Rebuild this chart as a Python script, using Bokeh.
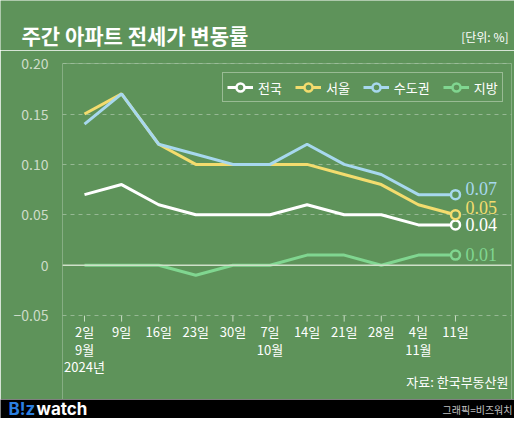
from bokeh.plotting import figure
from bokeh.models import Range1d, FixedTicker, Span, Legend, LegendItem, Label
from bokeh.layouts import column
from bokeh.core.properties import value
from bokeh.embed import file_html
from bokeh.resources import INLINE

# ---- data ----
dates = ["2일\n9월\n2024년", "9일", "16일", "23일", "30일", "7일\n10월",
         "14일", "21일", "28일", "4일\n11월", "11일"]
nation = [0.07, 0.08, 0.06, 0.05, 0.05, 0.05, 0.06, 0.05, 0.05, 0.04, 0.04]
seoul = [0.15, 0.17, 0.12, 0.10, 0.10, 0.10, 0.10, 0.09, 0.08, 0.06, 0.05]
capital = [0.14, 0.17, 0.12, 0.11, 0.10, 0.10, 0.12, 0.10, 0.09, 0.07, 0.07]
local = [0.00, 0.00, 0.00, -0.01, 0.00, 0.00, 0.01, 0.01, 0.00, 0.01, 0.01]
series_names = ["전국", "서울", "수도권", "지방"]
y_ticks = [-0.05, 0.0, 0.05, 0.10, 0.15, 0.20]
y_tick_labels = ["−0.05", "0", "0.05", "0.10", "0.15", "0.20"]

title_text = "주간 아파트 전세가 변동률"
unit_text = "[단위: %]"
source_text = "자료: 한국부동산원"
credit_text = "그래픽=비즈워치"

# ---- style ----
BG = "#5e935a"
FONT = "Noto Sans CJK KR"
colors = {"전국": "#ffffff", "서울": "#f3dc6e", "수도권": "#a7d8ee", "지방": "#80d690"}
values = {"전국": nation, "서울": seoul, "수도권": capital, "지방": local}
end_dy = {"전국": 0, "서울": -7, "수도권": -6, "지방": -1}
row_dy = [16, 34, 50.5]      # px below the axis line for each line of a date label
TICK_PX = 6
PX_PER_UNIT = 1008.0         # vertical scale of the chart
FRAME_H = 336                # frame: chart area + date-label strip
y_top = max(y_ticks) + 0.0001
y_bot = y_top - FRAME_H / PX_PER_UNIT
base = min(y_ticks)

x = list(range(len(dates)))


def bare(h, bg):
    f = figure(width=514, height=h, x_range=Range1d(0, 1), y_range=Range1d(0, 1),
               toolbar_location=None, output_backend="svg", min_border=0,
               x_axis_location=None, y_axis_location=None, frame_align=False)
    f.background_fill_color = bg
    f.border_fill_color = bg
    f.outline_line_color = None
    f.xgrid.visible = False
    f.ygrid.visible = False
    return f


# ---- header ----
head = bare(50, BG)
head.add_layout(Label(x=21, y=15.5, x_units="screen", y_units="screen", text=title_text,
                      text_font=FONT, text_font_style="bold", text_font_size="21px",
                      text_color="white", text_baseline="middle"))
head.add_layout(Label(x=508, y=14.5, x_units="screen", y_units="screen", text=unit_text,
                      text_font=FONT, text_font_size="12px", text_color="white",
                      text_align="right", text_baseline="middle"))

# ---- main chart ----
p = figure(width=514, height=13 + FRAME_H,
           x_range=Range1d(-0.593, 11.51), y_range=Range1d(y_bot, y_top),
           toolbar_location=None, output_backend="svg", frame_align=False,
           x_axis_location=None,
           min_border_left=62, min_border_right=3, min_border_top=13, min_border_bottom=0)
p.background_fill_color = BG
p.border_fill_color = BG
p.outline_line_color = None

p.yaxis.ticker = FixedTicker(ticks=y_ticks)
p.yaxis.major_label_overrides = {t: l for t, l in zip(y_ticks, y_tick_labels)}
p.yaxis.axis_line_color = None
p.yaxis.major_tick_line_color = None
p.yaxis.minor_tick_line_color = None
p.yaxis.major_label_text_color = "#cddcc9"
p.yaxis.major_label_text_font = FONT
p.yaxis.major_label_text_font_size = "14px"
p.yaxis.major_label_standoff = 8

p.xgrid.visible = False
p.ygrid.grid_line_color = "white"
p.ygrid.grid_line_alpha = 0.35
p.ygrid.grid_line_dash = "4 4"
p.ygrid.grid_line_width = 1

p.add_layout(Span(location=0, dimension="width", line_color="#cfe0c9", line_width=1.5))

# x ticks hanging under the lowest grid line
p.segment(x0=x, y0=[base] * len(x), x1=x, y1=[base - TICK_PX / PX_PER_UNIT] * len(x),
          line_color="#c9dcc4", line_width=1)

# date labels (one text call per line of the label)
for k, dy in enumerate(row_dy):
    xs = [x[i] for i, d in enumerate(dates) if len(d.split("\n")) > k]
    ts = [d.split("\n")[k] for d in dates if len(d.split("\n")) > k]
    p.text(xs, [base] * len(xs), text=ts, text_font=value(FONT), text_font_size="13px",
           text_color="white", text_align="center", text_baseline="middle", y_offset=dy)

renderers = {}
for name in ["지방", "전국", "서울", "수도권"]:
    vals = values[name]
    c = colors[name]
    rl = p.line(x, vals, line_color=c, line_width=3)
    rp = p.scatter([x[-1]], [vals[-1]], marker="circle", size=9, line_color=c,
                   line_width=2.5, fill_color=BG)
    p.text([x[-1]], [vals[-1]], text=[f"{vals[-1]:.2f}"], text_font=value("Liberation Serif"),
           text_font_size="18px", text_color=c, text_baseline="middle",
           x_offset=10, y_offset=end_dy[name])
    renderers[name] = [rl, rp]

items = [LegendItem(label=n, renderers=renderers[n]) for n in series_names]
legend = Legend(items=items, orientation="horizontal", location=(160, 297),
                border_line_color="#d3e3cd", border_line_width=1.5,
                background_fill_alpha=0, label_text_color="white",
                label_text_font=FONT, label_text_font_size="13px",
                glyph_width=26, glyph_height=20, label_standoff=5, spacing=13,
                padding=4, margin=0)
p.add_layout(legend)

p.add_layout(Label(x=446, y=18, x_units="screen", y_units="screen", text=source_text,
                   text_font=FONT, text_font_size="13px", text_color="white",
                   text_align="right", text_baseline="middle"))

# ---- footer ----
foot = bare(19, "black")
foot.add_layout(Label(x=8, y=9.5, x_units="screen", y_units="screen", text="B!z",
                      text_font="Inter", text_font_style="bold", text_font_size="17px",
                      text_color="#2b7fe0", text_baseline="middle"))
foot.add_layout(Label(x=36, y=9.5, x_units="screen", y_units="screen", text="watch",
                      text_font="Inter", text_font_style="bold", text_font_size="17px",
                      text_color="white", text_baseline="middle"))
foot.add_layout(Label(x=512, y=9.5, x_units="screen", y_units="screen", text=credit_text,
                      text_font=FONT, text_font_size="10px", text_color="#c0c0c0",
                      text_align="right", text_baseline="middle"))

root = column(head, p, foot, spacing=0)
open("out.html", "w").write(file_html(root, INLINE))
